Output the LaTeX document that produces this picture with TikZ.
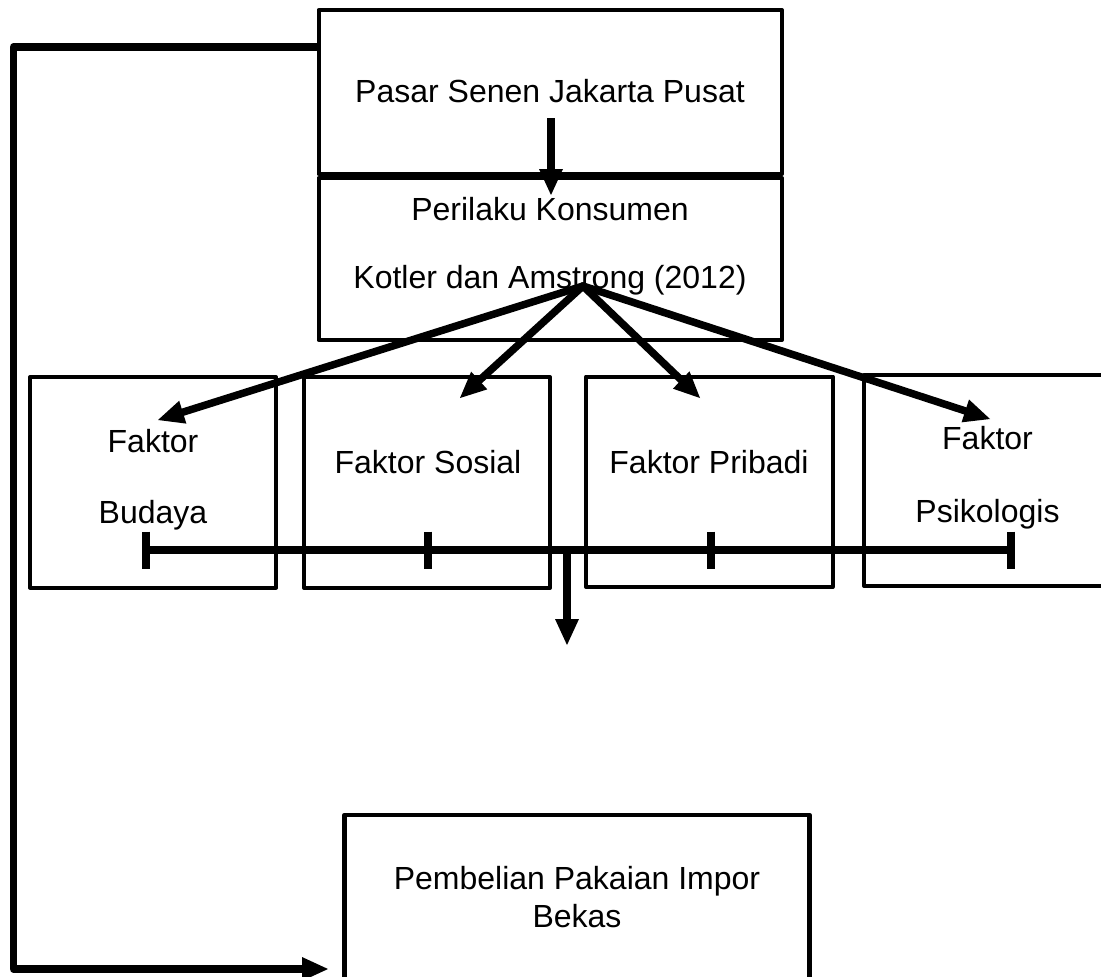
\documentclass[tikz,border=0pt]{standalone}
\usepackage{fontspec}
\setmainfont{Liberation Sans}
\usetikzlibrary{arrows.meta}
\begin{document}
\begin{tikzpicture}[x=1pt,y=-1pt,
  line join=round,
  box/.style={draw=black, line width=4pt, inner sep=0pt, outer sep=0pt},
  txt/.style={font=\fontsize{32}{38}\selectfont, inner sep=0pt, anchor=base},
  conn/.style={draw=black, line width=7.5pt},
  arr/.style={conn, -{Triangle[length=26pt,width=24pt,line width=0pt]}},
]
\useasboundingbox (0,0) rectangle (1101,977);
\begin{scope}
\clip (0,0) rectangle (1101,977);
% boxes
\node[box, minimum width=463.5pt, minimum height=164pt] (pasarbox) at (550.25,92) {};
\node[box, minimum width=463.5pt, minimum height=162pt] (perbox) at (550.25,259) {};
\node[box, minimum width=246pt, minimum height=210.5pt] (budbox) at (153,482.25) {};
\node[box, minimum width=246pt, minimum height=211pt] (sosbox) at (427,482.5) {};
\node[box, minimum width=246.5pt, minimum height=210.5pt] (pribox) at (709.25,481.75) {};
\node[box, minimum width=247pt, minimum height=211pt] (psibox) at (987.5,480.5) {};
\node[box, line width=4.5pt, minimum width=465pt, minimum height=200pt] (pembox) at (577,915) {};
% texts
\node[txt] (tpasar) at (550,102) {Pasar Senen Jakarta Pusat};
\node[txt] (tper) at (550,220) {Perilaku Konsumen};
\node[txt] (tkot) at (550,288) {Kotler dan Amstrong (2012)};
\node[txt] (tbud1) at (153,452) {Faktor};
\node[txt] (tbud2) at (153,523) {Budaya};
\node[txt] (tsos) at (428,473) {Faktor Sosial};
\node[txt] (tpri) at (709,473) {Faktor Pribadi};
\node[txt] (tpsi1) at (987.5,449) {Faktor};
\node[txt] (tpsi2) at (987.5,522) {Psikologis};
\node[txt] (tpem1) at (577,889) {Pembelian Pakaian Impor};
\node[txt] (tpem2) at (577,927) {Bekas};
% coordinates
\coordinate (hub) at (583,286);
\coordinate (aB) at (158,420);
\coordinate (aS) at (460,398);
\coordinate (aP) at (700,398);
\coordinate (aPs) at (990,419);
\coordinate (b1) at (146,550);
\coordinate (b2) at (428,550);
\coordinate (b3) at (711,550);
\coordinate (b4) at (1011,550);
\coordinate (bm) at (567,550);
\coordinate (bd) at (567,645);
\coordinate (in) at (328,969);
% connectors
\draw[arr] ([shift={(1pt,-16pt)}]tpasar.base) -- ([shift={(1pt,25pt)}]tper.base);
\foreach \t in {aB,aS,aP,aPs} \draw[arr, line cap=round] (hub) -- (\t);
\draw[conn] (b1) -- (b4);
\foreach \c in {b1,b2,b3,b4} \draw[conn] ([yshift=18.5pt]\c) -- ([yshift=-18.5pt]\c);
\draw[arr] (bm) -- (bd);
\draw[arr] ([yshift=-37pt]pasarbox.north west) -- ++(-305,0) |- (in);
\end{scope}
\end{tikzpicture}
\end{document}
